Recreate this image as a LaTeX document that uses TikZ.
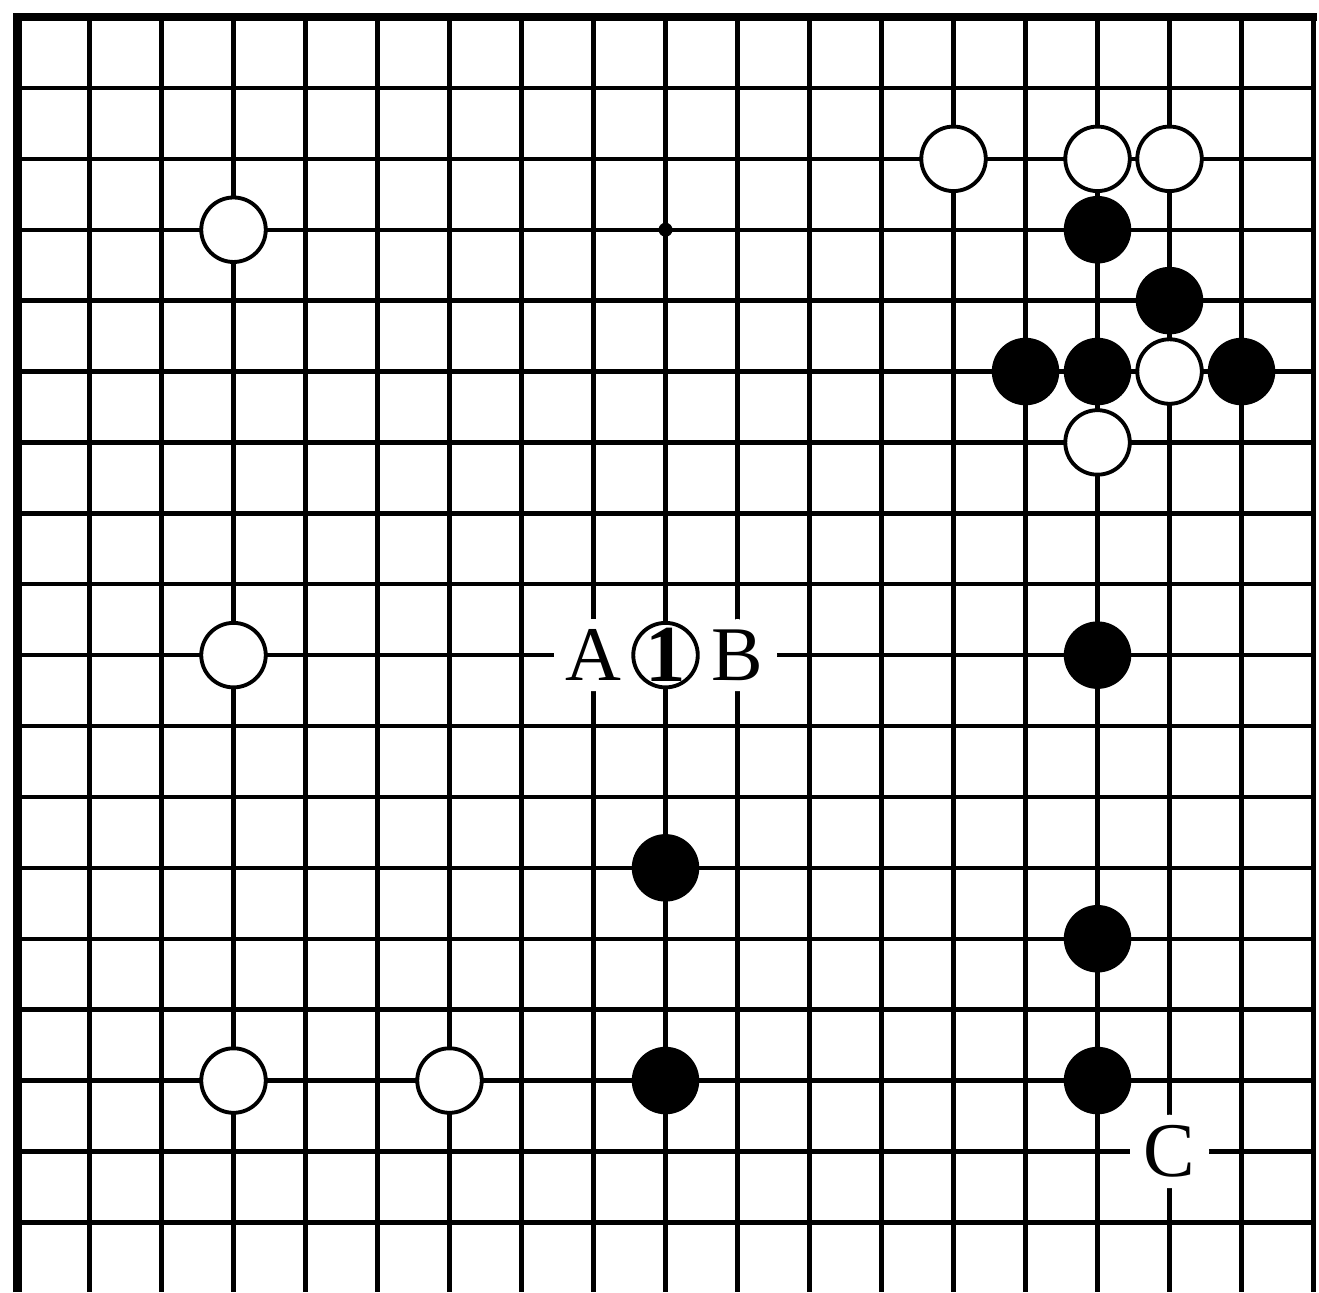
\documentclass[tikz,border=0pt]{standalone}
\usepackage{fontspec}
\setmainfont{Liberation Serif}
\usetikzlibrary{positioning,shapes.geometric}

\begin{document}
\begin{tikzpicture}[x=1.44cm,y=-1.418cm,
    gridline/.style={line width=2.5pt},
    edgeline/.style={line width=4.8pt},
    blackstone/.style={circle,fill=black,minimum size=1.35cm,inner sep=0pt},
    whitestone/.style={circle,draw=black,line width=2.2pt,fill=white,minimum size=1.29cm,inner sep=0pt},
    numeral/.style={inner sep=0pt,font=\fontsize{46}{46}\selectfont\bfseries},
    boardletter/.style={ellipse,fill=white,minimum width=1.58cm,minimum height=1.36cm,inner sep=0pt,font=\fontsize{44}{44}\selectfont}]
  \useasboundingbox (-0.243,-0.24) rectangle (18.076,17.983);
  % board lines
  \foreach \i in {1,...,18}
    \draw[gridline] (\i,0) -- (\i,17.983);
  \foreach \j in {1,...,17}
    \draw[gridline] (0,\j) -- (18,\j);
  \draw[edgeline] (0,17.983) -- (0,0) -- (18.05,0);
  \fill (9,3) circle (0.14cm);
  % stones
  \foreach \c/\r [count=\n] in {13/2,15/2,16/2,3/3,16/5,15/6,3/9,3/15,6/15}
    \node[whitestone] (w\n) at (\c,\r) {};
  \foreach \c/\r [count=\n] in {15/3,16/4,14/5,15/5,17/5,15/9,9/12,15/13,9/15,15/15}
    \node[blackstone] (b\n) at (\c,\r) {};
  % marked points
  \node[boardletter] (ptA) at (8,9) {A};
  \node[boardletter] (ptB) at (10,9) {B};
  \node[boardletter] (ptC) at (16,16) {C};
  \node[whitestone] (move1) at (9,9) {};
  \node[numeral] (num1) at (move1) {1};
\end{tikzpicture}
\end{document}
